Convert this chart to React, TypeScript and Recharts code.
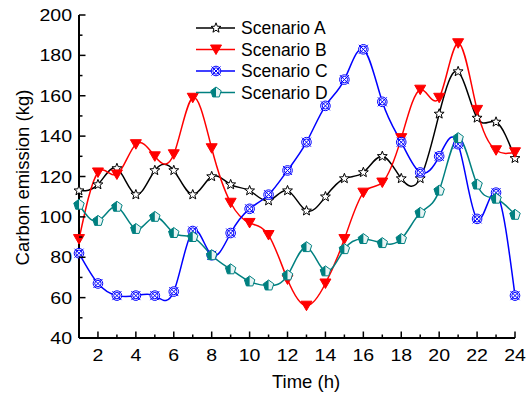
import { CartesianGrid, Line, LineChart, XAxis, YAxis } from "recharts";

const hours = [1, 2, 3, 4, 5, 6, 7, 8, 9, 10, 11, 12, 13, 14, 15, 16, 17, 18, 19, 20, 21, 22, 23, 24];
const scenarioA = [113, 116, 124, 111, 123, 123, 111, 120, 116, 113, 108, 113, 103, 110, 119, 122, 130, 119, 119, 151, 172, 149, 147, 129];
const scenarioB = [89, 122, 121, 136, 130, 131, 159, 134, 107, 97, 91, 69, 56, 67, 89, 112, 117, 139, 163, 159, 186, 153, 133, 132];
const scenarioC = [82, 67, 61, 61, 61, 63, 93, 81, 92, 104, 111, 123, 137, 155, 168, 183, 157, 137, 122, 130, 136, 99, 112, 61];
const scenarioD = [106, 98, 105, 94, 100, 92, 90, 81, 74, 68, 66, 71, 85, 73, 84, 89, 87, 89, 102, 113, 139, 116, 109, 101];

const xTicks = hours;
const yTicks = [40, 50, 60, 70, 80, 90, 100, 110, 120, 130, 140, 150, 160, 170, 180, 190, 200];

const data = hours.map((h, i) => ({
  h,
  a: scenarioA[i],
  b: scenarioB[i],
  c: scenarioC[i],
  d: scenarioD[i],
}));

const FONT = "'Liberation Sans', Arial, sans-serif";

const series = [
  { key: "a", label: "Scenario A", color: "#000000" },
  { key: "b", label: "Scenario B", color: "#ff0000" },
  { key: "c", label: "Scenario C", color: "#0000ff" },
  { key: "d", label: "Scenario D", color: "#008080" },
];

function Marker({ kind, cx, cy }: { kind: string; cx: number; cy: number }) {
  if (kind === "a") {
    const pts: string[] = [];
    for (let k = 0; k < 10; k++) {
      const r = k % 2 === 0 ? 5.2 : 2.2;
      const ang = -Math.PI / 2 + (k * Math.PI) / 5;
      pts.push(`${cx + r * Math.cos(ang)},${cy + r * Math.sin(ang)}`);
    }
    return <polygon points={pts.join(" ")} fill="#fff" stroke="#000" strokeWidth={1} />;
  }
  if (kind === "b") {
    return (
      <polygon
        points={`${cx - 5.5},${cy - 4.5} ${cx + 5.5},${cy - 4.5} ${cx},${cy + 5}`}
        fill="#ff0000"
        stroke="#ff0000"
      />
    );
  }
  if (kind === "c") {
    return (
      <g stroke="#0000ff" strokeWidth={1} fill="none">
        <circle cx={cx} cy={cy} r={4.8} fill="#fff" />
        <circle cx={cx} cy={cy} r={3.2} />
        <line x1={cx - 4.5} y1={cy - 4.5} x2={cx + 4.5} y2={cy + 4.5} />
        <line x1={cx - 4.5} y1={cy + 4.5} x2={cx + 4.5} y2={cy - 4.5} />
      </g>
    );
  }
  const pts: Array<[number, number]> = [];
  for (let k = 0; k < 5; k++) {
    const ang = -Math.PI / 2 + (k * 2 * Math.PI) / 5;
    pts.push([cx + 5.5 * Math.cos(ang), cy + 5.5 * Math.sin(ang)]);
  }
  const full = pts.map((p) => p.join(",")).join(" ");
  const left = [[cx, pts[0][1]], pts[4], pts[3], [cx, pts[3][1]]].map((p) => p.join(",")).join(" ");
  return (
    <g>
      <polygon points={full} fill="#e8f4f4" stroke="#008080" strokeWidth={1} />
      <polygon points={left} fill="#008080" />
    </g>
  );
}

const makeDot = (kind: string) => (props: any) => (
  <Marker key={`${kind}-${props.index}`} kind={kind} cx={props.cx} cy={props.cy} />
);

// tick labels in the source are drawn a bit wider than plain Arial
function TickText({ x, y, anchor, children }: any) {
  return (
    <g transform={`translate(${x}, ${y}) scale(1.22, 1)`}>
      <text x={0} y={0} textAnchor={anchor} fontSize={16} fontFamily={FONT} fill="#000">
        {children}
      </text>
    </g>
  );
}

function BottomTick({ x, y, payload }: any) {
  const v = payload.value;
  const major = v % 2 === 0;
  return (
    <g>
      <line x1={x} y1={y} x2={x} y2={y - (major ? 6.5 : 3.5)} stroke="#000" strokeWidth={1.5} />
      {major ? (
        <TickText x={x} y={y + 23} anchor="middle">
          {v}
        </TickText>
      ) : null}
    </g>
  );
}

function TopTick({ x, y, payload }: any) {
  const major = payload.value % 2 === 0;
  return <line x1={x} y1={y} x2={x} y2={y + (major ? 6.5 : 3.5)} stroke="#000" strokeWidth={1.5} />;
}

function LeftTick({ x, y, payload }: any) {
  const v = payload.value;
  const major = v % 20 === 0;
  return (
    <g>
      <line x1={x} y1={y} x2={x + (major ? 6.5 : 3.5)} y2={y} stroke="#000" strokeWidth={1.5} />
      {major ? (
        <TickText x={x - 7} y={y + 6} anchor="end">
          {v}
        </TickText>
      ) : null}
    </g>
  );
}

function RightTick({ x, y, payload }: any) {
  const major = payload.value % 20 === 0;
  return <line x1={x} y1={y} x2={x - (major ? 6.5 : 3.5)} y2={y} stroke="#000" strokeWidth={1.5} />;
}

function Legend() {
  return (
    <svg
      width={526}
      height={394}
      style={{ position: "absolute", left: 0, top: 0, pointerEvents: "none" }}
    >
      {series.map((s, i) => {
        const cy = 28 + i * 21.5;
        return (
          <g key={s.key}>
            <line x1={196} y1={cy} x2={235} y2={cy} stroke={s.color} strokeWidth={1.5} />
            <Marker kind={s.key} cx={216} cy={cy} />
            <text x={241} y={cy + 6} fontSize={17.5} fontFamily={FONT} fill="#000">
              {s.label}
            </text>
          </g>
        );
      })}
    </svg>
  );
}

export default function App() {
  return (
    <div style={{ position: "absolute", left: 0, top: 0, width: 526, height: 394, background: "#fff" }}>
      <LineChart width={526} height={394} data={data} margin={{ top: 15, right: 11, left: 0, bottom: 0 }}>
        <CartesianGrid stroke="none" />
        <XAxis
          dataKey="h"
          type="number"
          domain={[1, 24]}
          ticks={xTicks}
          interval={0}
          height={56}
          tickSize={0}
          tickMargin={0}
          tick={<BottomTick />}
          axisLine={{ stroke: "#000", strokeWidth: 2 }}
          label={{
            content: ({ viewBox }: any) => (
              <text
                x={viewBox.x + viewBox.width / 2 + 9}
                y={viewBox.y + 50}
                textAnchor="middle"
                fontSize={18.5}
                fontFamily={FONT}
                fill="#000"
              >
                Time (h)
              </text>
            ),
          }}
        />
        <XAxis
          xAxisId="top"
          orientation="top"
          dataKey="h"
          type="number"
          domain={[1, 24]}
          ticks={xTicks}
          interval={0}
          height={0}
          tickSize={0}
          tickMargin={0}
          tick={<TopTick />}
          axisLine={{ stroke: "#000", strokeWidth: 2 }}
        />
        <YAxis
          type="number"
          domain={[40, 200]}
          ticks={yTicks}
          interval={0}
          width={79}
          tickSize={0}
          tickMargin={0}
          tick={<LeftTick />}
          axisLine={{ stroke: "#000", strokeWidth: 2 }}
          label={{
            content: ({ viewBox }: any) => {
              const cx = 29;
              const cy = viewBox.y + viewBox.height / 2 + 1;
              return (
                <text
                  x={cx}
                  y={cy}
                  textAnchor="middle"
                  transform={`rotate(-90, ${cx}, ${cy})`}
                  fontSize={18.5}
                  fontFamily={FONT}
                  fill="#000"
                >
                  Carbon emission (kg)
                </text>
              );
            },
          }}
        />
        <YAxis
          yAxisId="right"
          orientation="right"
          type="number"
          domain={[40, 200]}
          ticks={yTicks}
          interval={0}
          width={0}
          tickSize={0}
          tickMargin={0}
          tick={<RightTick />}
          axisLine={{ stroke: "#000", strokeWidth: 2 }}
        />
        {series.map((s) => (
          <Line
            key={s.key}
            type="natural"
            dataKey={s.key}
            stroke={s.color}
            strokeWidth={1.5}
            dot={makeDot(s.key)}
            activeDot={false}
            isAnimationActive={false}
          />
        ))}
      </LineChart>
      <Legend />
    </div>
  );
}
